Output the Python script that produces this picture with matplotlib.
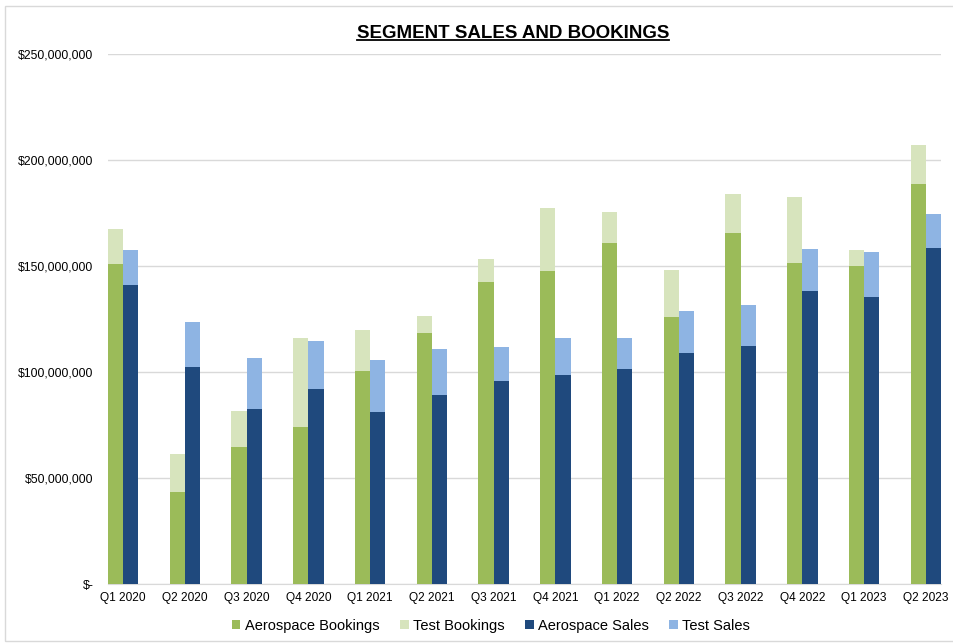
import matplotlib.pyplot as plt
import numpy as np
from matplotlib.patches import Rectangle
from matplotlib.lines import Line2D
from matplotlib.ticker import FuncFormatter

plt.rcParams['font.family'] = ['Liberation Sans', 'DejaVu Sans']

quarters = ["Q1 2020", "Q2 2020", "Q3 2020", "Q4 2020", "Q1 2021", "Q2 2021", "Q3 2021",
            "Q4 2021", "Q1 2022", "Q2 2022", "Q3 2022", "Q4 2022", "Q1 2023", "Q2 2023"]

# values in $M (stack totals for the "test" parts)
aero_bookings = [150.9, 43.2, 64.8, 74.1, 100.5, 118.2, 142.5, 147.6, 160.7, 125.8, 165.6, 151.6, 150.0, 188.8]
total_bookings = [167.5, 61.3, 81.4, 115.9, 119.8, 126.3, 153.5, 177.2, 175.5, 148.3, 184.1, 182.4, 157.7, 207.1]
aero_sales = [141.0, 102.5, 82.4, 91.8, 81.3, 89.2, 95.6, 98.6, 101.3, 109.1, 112.1, 138.2, 135.5, 158.5]
total_sales = [157.5, 123.4, 106.4, 114.6, 105.8, 110.8, 111.6, 115.9, 116.0, 128.9, 131.4, 158.0, 156.5, 174.4]

aero_bookings = np.array(aero_bookings) * 1e6
test_bookings = np.array(total_bookings) * 1e6 - aero_bookings
aero_sales = np.array(aero_sales) * 1e6
test_sales = np.array(total_sales) * 1e6 - aero_sales

c_ab = "#9BBB59"
c_tb = "#D7E4BD"
c_as = "#1F497D"
c_ts = "#8EB4E3"

fig = plt.figure(figsize=(9.54, 6.43), dpi=100)
ax = fig.add_axes([108 / 954, 1 - 584 / 643, (941 - 108) / 954, (584 - 54) / 643])

x = np.arange(len(quarters))
w = 0.245
ax.bar(x - w / 2, aero_bookings, w, color=c_ab, label="Aerospace Bookings", zorder=3)
ax.bar(x - w / 2, test_bookings, w, bottom=aero_bookings, color=c_tb, label="Test Bookings", zorder=3)
ax.bar(x + w / 2, aero_sales, w, color=c_as, label="Aerospace Sales", zorder=3)
ax.bar(x + w / 2, test_sales, w, bottom=aero_sales, color=c_ts, label="Test Sales", zorder=3)

ax.set_xlim(-w, len(quarters) - 1 + w)
ax.set_ylim(0, 250e6)
ax.set_yticks(np.arange(0, 250e6 + 1, 50e6))
ax.yaxis.set_major_formatter(FuncFormatter(lambda v, p: "$-" if v == 0 else f"${v:,.0f}"))
ax.set_xticks(x)
ax.set_xticklabels(quarters)
ax.tick_params(axis='both', length=0)
ax.tick_params(axis='y', pad=10.5, labelsize=8.8)
ax.tick_params(axis='x', pad=6, labelsize=8.6)
ax.grid(axis='y', color='#D9D9D9', linewidth=1, zorder=0)
for s in ['top', 'right', 'left']:
    ax.spines[s].set_visible(False)
ax.spines['bottom'].set_color('#D9D9D9')

ax.legend(loc='center', bbox_to_anchor=(491 / 954, 1 - 626 / 643), bbox_transform=fig.transFigure,
          ncol=4, frameon=False, fontsize=10.5, handlelength=0.6, handleheight=0.6,
          handletextpad=0.3, columnspacing=1.4)

title = fig.text(513 / 954, 1 - 33 / 643, "SEGMENT SALES AND BOOKINGS", ha='center', va='center',
                 fontsize=13.5, fontweight='bold')

# chart border
fig.patches.append(Rectangle((5 / 954, 0.003), 1, 1 - 0.003 - 6 / 643, transform=fig.transFigure,
                             fill=False, edgecolor='#D9D9D9', linewidth=1))

# underline the title
fig.canvas.draw()
bb = title.get_window_extent().transformed(fig.transFigure.inverted())
fig.lines.append(Line2D([bb.x0, bb.x1], [bb.y0 + 0.002, bb.y0 + 0.002], transform=fig.transFigure,
                        color='black', linewidth=1.3))

plt.savefig("out.png", dpi=100)
